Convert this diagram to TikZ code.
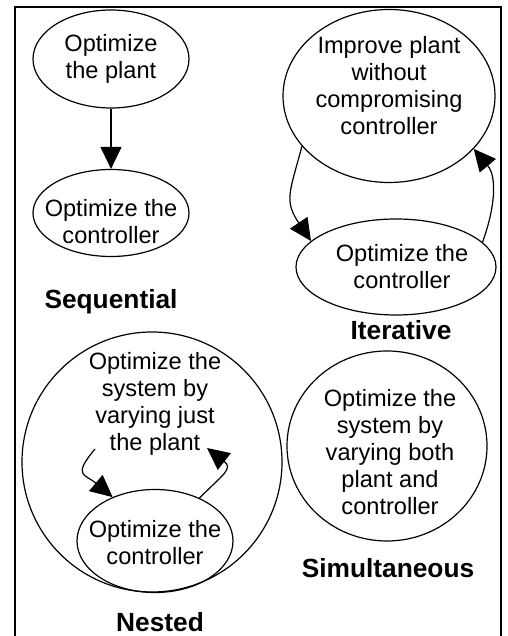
\documentclass[tikz,border=0pt]{standalone}
\usepackage{fontspec}
\setmainfont{Liberation Sans}
\usepackage{tikz}
\usetikzlibrary{arrows.meta,shapes.geometric}
\tikzset{
  oval/.style={draw, ellipse, line width=1.2pt, inner sep=0pt},
  txt/.style={align=center, inner sep=0pt, font=\fontsize{23.6}{27}\selectfont},
  title/.style={font=\fontsize{26.3}{30}\selectfont\bfseries}
}

\begin{document}
\begin{tikzpicture}[x=1pt,y=1pt]
    \useasboundingbox (0,0) rectangle (507,636);
    \draw[line width=1.2pt] (15,0) -- (15,629) -- (501,629) -- (501,0);

    \node[oval, minimum width=156pt, minimum height=98pt, label={[txt]center:Optimize\\the plant}] (1) at (111,577) {};
    \node[oval, minimum width=156pt, minimum height=87pt, label={[txt, yshift=-9pt]center:Optimize the\\controller}] (2) at (111,423) {};

    \node[oval, minimum width=212pt, minimum height=173pt, label={[txt, yshift=10pt]center:Improve plant\\without\\compromising\\controller}] (3) at (389,540) {};
    \node[oval, minimum width=200pt, minimum height=96pt, label={[txt, xshift=6pt]center:Optimize the\\controller}] (4) at (396,369) {};

    \node[oval, minimum width=260pt, minimum height=260pt, label={[txt, xshift=3pt, yshift=58pt]center:Optimize the\\system by\\varying just\\the plant}] (5) at (152,174) {};
    \node[oval, minimum width=156pt, minimum height=103pt, label={[txt, yshift=-2pt]center:Optimize the\\controller}] (7) at (155,95) {};

    \node[oval, minimum width=200pt, minimum height=190pt, label={[txt, xshift=3pt, yshift=-6pt]center:Optimize the\\system by\\varying both\\plant and\\controller}] (8) at (387,190) {};

    \node[title] (9) at (111,334) {Sequential};
    \node[title] (10) at (401,306) {Iterative};
    \node[title] (11) at (160,14) {Nested};
    \node[title] (12) at (388,68) {Simultaneous};

    \coordinate (13) at (95,187);
    \coordinate (14) at (207,188);

    \path[line width=1.2pt, -{Triangle[length=22pt,width=21pt]}]
    (1) edge (2)
    (3.210) edge [out=255, in=124, looseness=1.3] (4.163)
    (4.16) edge [out=70, in=310] (3.328)
    (13) edge [out=230, in=140, looseness=1.8] (7.134)
    (7.44) edge [out=45, in=322, looseness=1.7] (14);
\end{tikzpicture}
\end{document}
